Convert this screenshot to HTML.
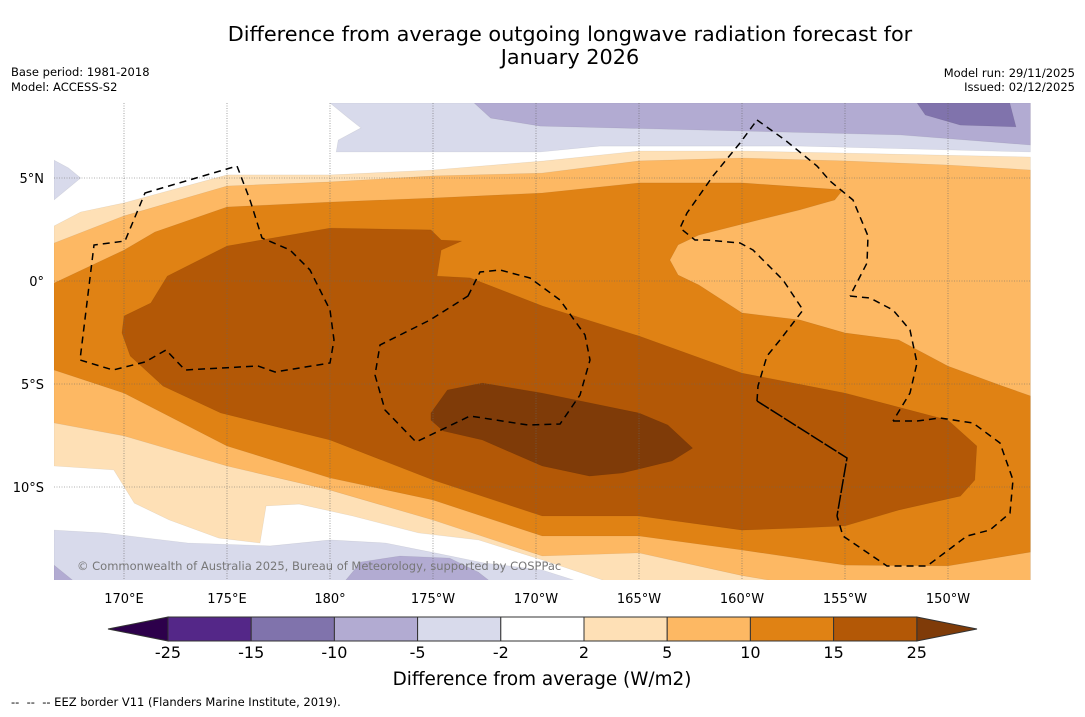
<!DOCTYPE html>
<html><head><meta charset="utf-8"><style>
body{margin:0;background:#fff;width:1085px;height:713px;overflow:hidden;font-family:"DejaVu Sans","Liberation Sans",sans-serif}
svg text{font-family:"DejaVu Sans","Liberation Sans",sans-serif}
</style></head><body>
<svg id="chart" width="1085" height="713" viewBox="0 0 1085 713" xmlns="http://www.w3.org/2000/svg">
<text x="570" y="41" font-size="20.8" text-anchor="middle" fill="#000">Difference from average outgoing longwave radiation forecast for</text>
<text x="570" y="64" font-size="20.8" text-anchor="middle" fill="#000">January 2026</text>
<text x="11" y="76" font-size="11.5">Base period: 1981-2018</text>
<text x="11" y="91" font-size="11.5">Model: ACCESS-S2</text>
<text x="1075" y="77" font-size="11.5" text-anchor="end">Model run: 29/11/2025</text>
<text x="1075" y="91" font-size="11.5" text-anchor="end">Issued: 02/12/2025</text>
<defs><clipPath id="mapclip"><rect x="54" y="103" width="977" height="477"/></clipPath></defs>
<g id="map" clip-path="url(#mapclip)">
<rect x="54" y="103" width="977" height="477" fill="#fff"/>
<g id="contours"></g>
<g id="grid"></g>
<g fill="none" stroke="#000" stroke-width="1.5" stroke-dasharray="7,5">
<path d="M145,193 L237,166 L250,200 L262,238 L290,250 L310,270 L330,310 L334,340 L330,363 L275,372 L258,366 L185,370 L166,350 L145,362 L113,370 L80,360 L94,245 L125,241 Z"/>
<path d="M468,296 L480,272 L500,270 L530,278 L560,300 L585,335 L590,360 L580,395 L560,424 L528,425 L470,416 L416,442 L385,410 L375,375 L380,345 L430,320 Z"/>
<path d="M757,120 L785,140 L817,166 L830,181 L853,200 L868,236 L867,263 L850,296 M850,296 L870,298 L893,310 L910,330 L917,363 L910,393 L893,421 M893,421 L917,421 L940,418 L973,423 L1000,443 L1013,480 L1010,513 L990,530 L967,536 L927,566 L887,566 L843,536 L837,516 M757,401 L758,386 L767,356 L780,340 L803,310 L783,280 L753,250 L740,243 L707,240 L695,240 L680,228 L687,213 L713,176 L740,143 L757,120"/>
<path d="M757,401 L847,458 L837,516" stroke-dasharray="14,2"/>
</g>
<text x="77" y="570" font-size="11.5" fill="#777">© Commonwealth of Australia 2025, Bureau of Meteorology, supported by COSPPac</text>
</g>
<g id="xticks"></g>
<g id="yticks"></g>
<g id="colorbar"></g>
<text x="542" y="685" font-size="18.4" text-anchor="middle">Difference from average (W/m2)</text>
<text x="11" y="706" font-size="11.5">-- &#160;-- &#160;-- EEZ border V11 (Flanders Marine Institute, 2019).</text>
</svg>
<script>
// axis ticks
const lonTicks = [170,175,180,185,190,195,200,205,210];
const lonTickLabels = ["170°E","175°E","180°","175°W","170°W","165°W","160°W","155°W","150°W"];
const latTicks = [5,0,-5,-10];
const latTickLabels = ["5°N","0°","5°S","10°S"];
// colorbar
const cbLevels = [-25,-15,-10,-5,-2,2,5,10,15,25];
const cbColors = ["#542788","#8073ac","#b2abd2","#d8daeb","#ffffff","#fee0b6","#fdb863","#e08214","#b35806"];
const cbUnder = "#2d004b";
const cbOver = "#7f3b08";
// contour regions [lon(0-360), lat]
const lavenderTop = [[180,8.64],[214,8.64],[214,6.26],[202.8,6.55],[193.1,6.55],[190.2,6.26],[180.3,6.26],[180.4,6.84],[181.5,7.43],[180.9,7.91]];
const lavenderWest = [[166.6,5.87],[167.3,5.49],[167.9,5.0],[167.2,4.42],[166.6,3.93]];
const lavenderSouth = [[166.6,-12.09],[169,-12.23],[173.1,-12.72],[177.1,-12.86],[180,-12.57],[182.7,-12.72],[185.1,-13.2],[187.5,-13.69],[190.3,-14.03],[192.1,-14.6],[166.6,-14.6]];
const purpleTop = [[187,8.64],[214,8.64],[214,6.6],[207.7,7.09],[197.9,7.33],[190.2,7.52],[187.8,7.91]];
const purpleSouth = [[180.7,-14.6],[181.5,-13.64],[183.4,-13.35],[185.8,-13.45],[187.2,-14.13],[187.8,-14.6]];
const purpleSW = [[166.6,-13.79],[167.6,-14.6],[166.6,-14.6]];
const darkPurpleTop = [[208.5,8.64],[213,8.64],[213.3,7.48],[210.6,7.57],[208.9,8.06]];
const pos2 = [[166.6,2.67],[167.9,3.35],[170,3.79],[175,5.15],[180,5.15],[185,5.39],[190.4,5.83],[195,6.31],[200,6.31],[205,6.21],[214,6.02],[214,-14.6],[193.5,-14.6],[190.3,-13.54],[187.2,-12.57],[184.3,-12.23],[181.1,-11.41],[178.5,-10.83],[176.9,-10.92],[176.6,-12.72],[174.6,-12.48],[172.2,-11.6],[170.5,-10.78],[169.5,-9.17],[166.6,-8.98]];
const pos5 = [[166.6,1.84],[170,3.16],[175,4.61],[180,4.81],[185,5.1],[190.3,5.24],[195,5.83],[200,5.97],[205,5.83],[210,5.63],[214,5.39],[214,-14.6],[201.8,-14.6],[200,-14.3],[195,-13.2],[190.3,-13.35],[185,-11.6],[180,-10.15],[175,-8.98],[170,-7.52],[166.6,-6.89]];
const pos10 = [[166.6,-0.1],[170,1.5],[171.5,2.38],[175,3.59],[180,3.83],[185,4.03],[190.3,4.27],[195,4.76],[200,4.76],[204.9,4.42],[204.5,3.93],[202.8,3.45],[200.8,2.96],[197.9,2.23],[196.9,1.75],[196.5,1.02],[196.9,0.29],[197.9,-0.19],[200,-1.55],[202.8,-1.89],[205,-2.52],[207.6,-2.86],[210,-4.13],[212.5,-5.05],[214,-5.58],[214,-13.16],[210,-13.83],[205,-13.79],[200,-13.06],[195,-12.38],[190.3,-12.38],[185,-10.63],[180,-9.56],[175,-8.01],[170,-5.44],[166.6,-4.32]];
const pos15 = [[169.9,-2.52],[170,-1.7],[171.3,-1.07],[172.1,0.24],[175,1.7],[180,2.57],[184.9,2.48],[185.4,1.99],[186.4,1.94],[185.4,1.5],[185.2,0.24],[186.8,0.15],[190.3,-1.21],[195,-2.67],[200,-4.47],[205,-5.44],[210,-6.75],[211.4,-8.01],[211.3,-9.66],[210.6,-10.44],[207.6,-11.12],[205,-11.89],[202.8,-11.99],[200,-12.09],[195,-11.41],[190.3,-11.41],[185,-9.66],[180,-7.72],[174.7,-6.41],[171.9,-5.1],[170.3,-3.64]];
const pos25 = [[184.9,-6.41],[185.7,-5.29],[187.4,-4.95],[190.3,-5.44],[195,-6.41],[196.4,-6.99],[197.6,-8.11],[196.6,-8.74],[194.2,-9.32],[192.6,-9.47],[190.3,-8.98],[187.4,-7.72],[185.5,-7.28],[184.9,-6.75]];

const NS = "http://www.w3.org/2000/svg";
const mapX0 = 124, lon0 = 170, mapY0 = 281, pxPerDeg = 20.6;
function px(lon){ return mapX0 + (lon - lon0) * pxPerDeg; }
function py(lat){ return mapY0 - lat * pxPerDeg; }
function mk(tag, attrs, parent){ const e = document.createElementNS(NS, tag); for (const k in attrs) e.setAttribute(k, attrs[k]); parent.appendChild(e); return e; }

const contours = document.getElementById('contours');
const layers = [
  [lavenderTop,"#d8daeb","contour-lavender-north"],[lavenderWest,"#d8daeb","contour-lavender-west"],[lavenderSouth,"#d8daeb","contour-lavender-south"],
  [purpleTop,"#b2abd2","contour-purple-north"],[purpleSouth,"#b2abd2","contour-purple-south"],[purpleSW,"#b2abd2","contour-purple-southwest"],
  [darkPurpleTop,"#8073ac","contour-dark-purple-north"],
  [pos2,"#fee0b6","contour-2-to-5"],[pos5,"#fdb863","contour-5-to-10"],[pos10,"#e08214","contour-10-to-15"],
  [pos15,"#b35806","contour-15-to-25"],[pos25,"#7f3b08","contour-above-25"]
];
layers.forEach(function(L){
  const pts = L[0].map(function(p){ return px(p[0]).toFixed(1)+","+py(p[1]).toFixed(1); }).join(" ");
  const el = mk('polygon', {points: pts, fill: L[1], stroke: "rgba(0,0,0,0.08)", "stroke-width": "0.6"}, contours);
  
  
});

const grid = document.getElementById('grid');
const xt = document.getElementById('xticks');
lonTicks.forEach(function(lon, i){
  const g = mk('line', {x1: px(lon), x2: px(lon), y1: 103, y2: 580, stroke: "#666", "stroke-width": "0.6", "stroke-dasharray": "1,1.5"}, grid);
  
  
  const t = mk('text', {x: px(lon), y: 603, "font-size": "13", "text-anchor": "middle"}, xt);
  t.textContent = lonTickLabels[i];
  
  
});
const yt = document.getElementById('yticks');
latTicks.forEach(function(lat, i){
  const g = mk('line', {x1: 54, x2: 1031, y1: py(lat), y2: py(lat), stroke: "#666", "stroke-width": "0.6", "stroke-dasharray": "1,1.5"}, grid);
  
  
  const t = mk('text', {x: 44, y: py(lat) + 5, "font-size": "13", "text-anchor": "end"}, yt);
  t.textContent = latTickLabels[i];
  
  
});

const cb = document.getElementById('colorbar');
const cbX0 = 168, cbW = 83.2, cbY = 617, cbH = 24;
function cbx(i){ return cbX0 + i * cbW; }
const under = mk('polygon', {points: `${cbx(0)},${cbY} ${108},${cbY+cbH/2} ${cbx(0)},${cbY+cbH}`, fill: cbUnder, stroke: "#333", "stroke-width": "1"}, cb);


const last = cbLevels.length - 1;
const over = mk('polygon', {points: `${cbx(last)},${cbY} ${977},${cbY+cbH/2} ${cbx(last)},${cbY+cbH}`, fill: cbOver, stroke: "#333", "stroke-width": "1"}, cb);


cbColors.forEach(function(c, i){
  const r = mk('rect', {x: cbx(i), y: cbY, width: cbW, height: cbH, fill: c, stroke: "#333", "stroke-width": "1"}, cb);
  
  
});
cbLevels.forEach(function(v, i){
  const t = mk('text', {x: cbx(i), y: 658, "font-size": "16", "text-anchor": "middle"}, cb);
  t.textContent = String(v);
  
  
});
</script>
</body></html>
